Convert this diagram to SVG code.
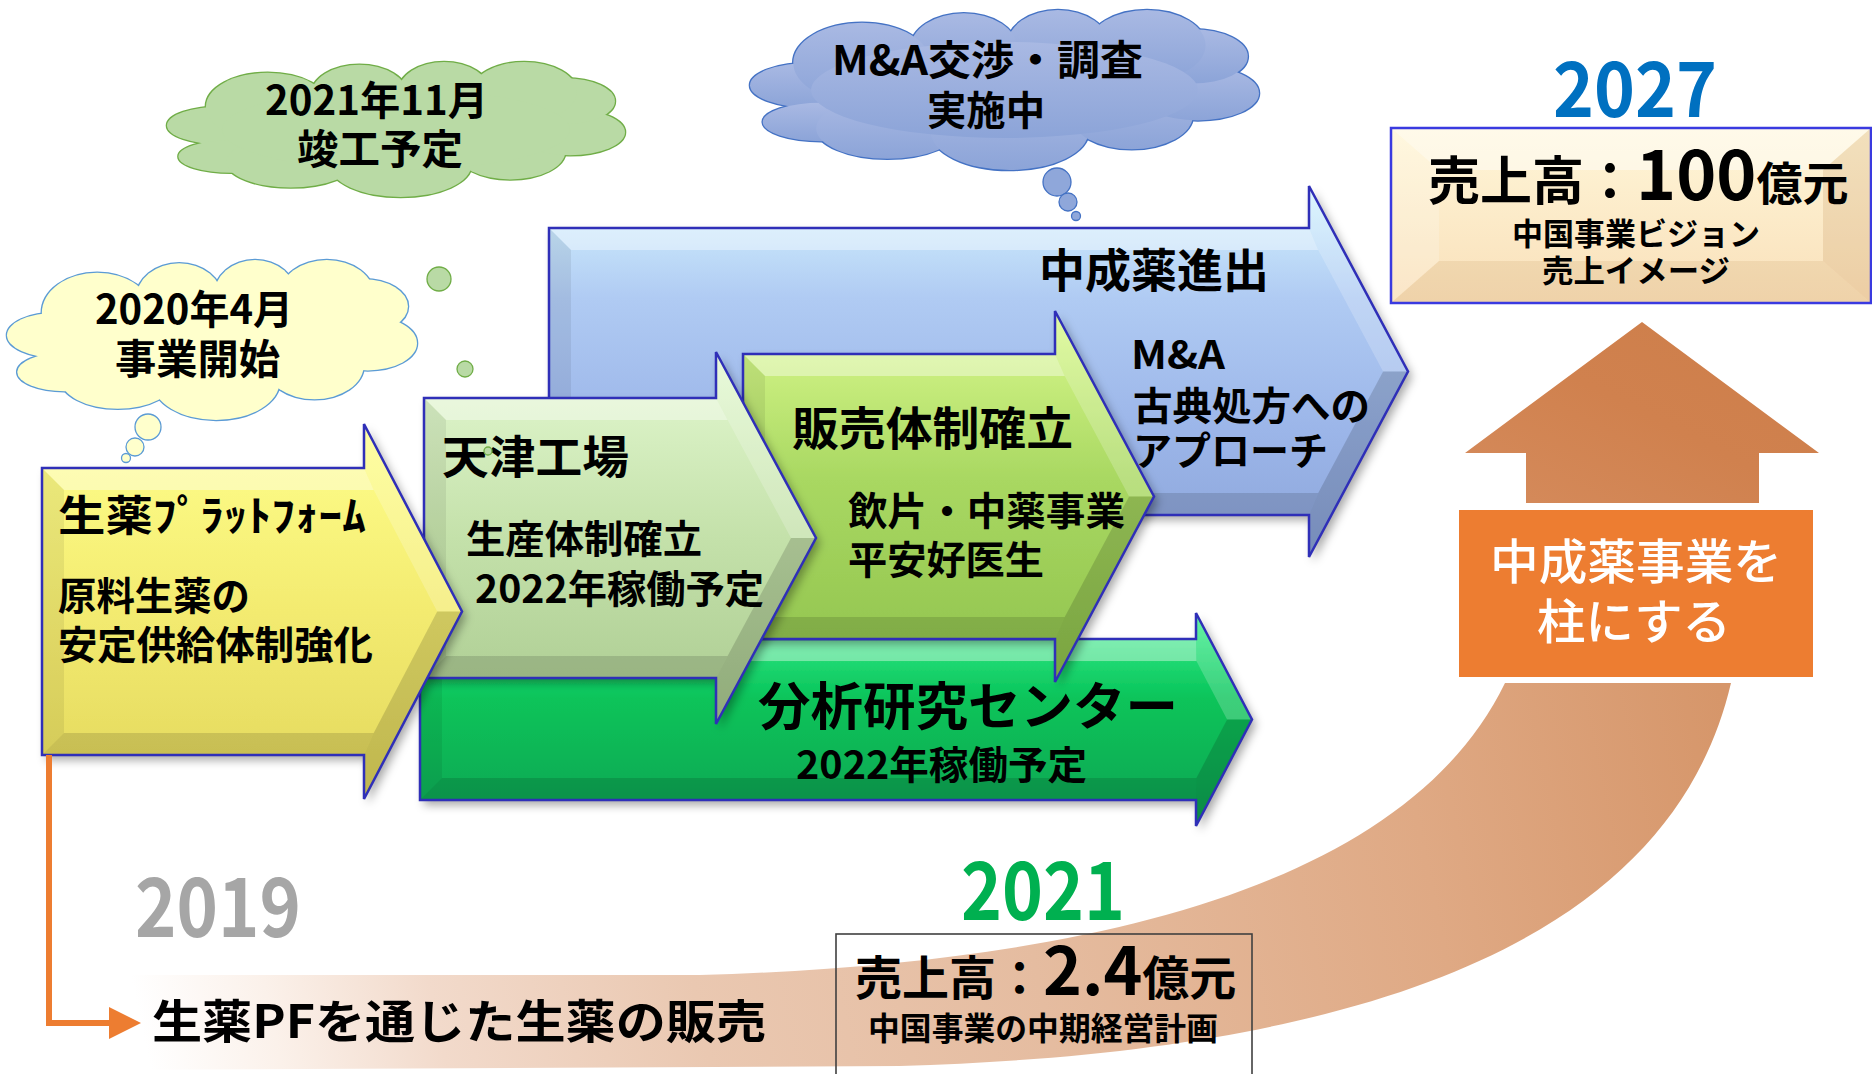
<svg xmlns="http://www.w3.org/2000/svg" xmlns:xlink="http://www.w3.org/1999/xlink" width="1872" height="1074" viewBox="0 0 1872 1074">
<style>
text{font-family:"Noto Sans CJK JP","Noto Sans",sans-serif;font-weight:700;fill:#000}
.edge{fill:none;stroke:#2F2FB8;stroke-width:2.5;stroke-linejoin:miter}
.ft{fill:#fff;opacity:.38}
.fl{fill:#000;opacity:.07}
.fb{fill:#000;opacity:.13}
.fhu{fill:#fff;opacity:.2}
.fhd{fill:#000;opacity:.15}
.wt{fill:#fff;font-weight:500}
</style>
<defs>
<filter id="sh" x="-10%" y="-10%" width="125%" height="130%">
<feDropShadow dx="4" dy="5" stdDeviation="5" flood-color="#000" flood-opacity="0.35"/>
</filter>
<linearGradient id="gBlue" x1="0" y1="0" x2="0" y2="1">
<stop offset="0" stop-color="#D6F6FF"/><stop offset="0.3" stop-color="#B0CBF3"/><stop offset="0.65" stop-color="#9CB6E9"/><stop offset="1" stop-color="#8CA5DA"/>
</linearGradient>
<linearGradient id="gDark" x1="0" y1="0" x2="0" y2="1">
<stop offset="0" stop-color="#3FF290"/><stop offset="0.4" stop-color="#08C45A"/><stop offset="1" stop-color="#10A352"/>
</linearGradient>
<linearGradient id="gYG" x1="0" y1="0" x2="0" y2="1">
<stop offset="0" stop-color="#DBFA8E"/><stop offset="0.45" stop-color="#A9D862"/><stop offset="1" stop-color="#8FC24C"/>
</linearGradient>
<linearGradient id="gLG" x1="0" y1="0" x2="0" y2="1">
<stop offset="0" stop-color="#E4F9D2"/><stop offset="0.5" stop-color="#C4E1AA"/><stop offset="1" stop-color="#AACA90"/>
</linearGradient>
<linearGradient id="gY" x1="0" y1="0" x2="0" y2="1">
<stop offset="0" stop-color="#FFFF8C"/><stop offset="0.5" stop-color="#F3EB70"/><stop offset="1" stop-color="#E2D75C"/>
</linearGradient>
<linearGradient id="gBeige" x1="0" y1="0" x2="0" y2="1">
<stop offset="0" stop-color="#FFF6D8"/><stop offset="1" stop-color="#F9E0BA"/>
</linearGradient>
<linearGradient id="gBlueCloud" x1="0" y1="0" x2="0" y2="1">
<stop offset="0" stop-color="#A9B9E3"/><stop offset="1" stop-color="#8CA4D8"/>
</linearGradient>
<linearGradient id="gOrangeArrow" x1="0" y1="1" x2="1" y2="0">
<stop offset="0" stop-color="#D58B5C"/><stop offset="0.5" stop-color="#D0814E"/><stop offset="1" stop-color="#CD7E4A"/>
</linearGradient>
<linearGradient id="gBand" gradientUnits="userSpaceOnUse" x1="140" y1="1020" x2="1720" y2="690">
<stop offset="0" stop-color="#FFFFFF"/><stop offset="0.08" stop-color="#FBF1EA"/><stop offset="0.18" stop-color="#F2DACB"/><stop offset="0.34" stop-color="#EAC8B1"/><stop offset="0.55" stop-color="#E5BCA0"/><stop offset="0.8" stop-color="#DFA984"/><stop offset="1" stop-color="#D6966A"/>
</linearGradient>
<g id="cloudShape">
<ellipse cx="0.12" cy="0.47" rx="0.12" ry="0.14" vector-effect="non-scaling-stroke" stroke-width="2.6"/>
<ellipse cx="0.14" cy="0.70" rx="0.115" ry="0.12" vector-effect="non-scaling-stroke" stroke-width="2.6"/>
<ellipse cx="0.27" cy="0.74" rx="0.14" ry="0.19" vector-effect="non-scaling-stroke" stroke-width="2.6"/>
<ellipse cx="0.51" cy="0.76" rx="0.155" ry="0.24" vector-effect="non-scaling-stroke" stroke-width="2.6"/>
<ellipse cx="0.75" cy="0.66" rx="0.12" ry="0.21" vector-effect="non-scaling-stroke" stroke-width="2.6"/>
<ellipse cx="0.88" cy="0.52" rx="0.12" ry="0.17" vector-effect="non-scaling-stroke" stroke-width="2.6"/>
<ellipse cx="0.87" cy="0.29" rx="0.108" ry="0.17" vector-effect="non-scaling-stroke" stroke-width="2.6"/>
<ellipse cx="0.78" cy="0.22" rx="0.115" ry="0.22" vector-effect="non-scaling-stroke" stroke-width="2.6"/>
<ellipse cx="0.605" cy="0.22" rx="0.1" ry="0.22" vector-effect="non-scaling-stroke" stroke-width="2.6"/>
<ellipse cx="0.42" cy="0.24" rx="0.105" ry="0.22" vector-effect="non-scaling-stroke" stroke-width="2.6"/>
<ellipse cx="0.22" cy="0.33" rx="0.135" ry="0.25" vector-effect="non-scaling-stroke" stroke-width="2.6"/>
<ellipse cx="0.5" cy="0.5" rx="0.38" ry="0.3" vector-effect="non-scaling-stroke" stroke-width="2.6"/>
</g>
</defs>

<rect width="1872" height="1074" fill="#fff"/>

<g id="growth-curve">
<path d="M100,1070 L900,1066 C1450,1050 1680,900 1731,683 L1505,683 C1400,900 1050,965 700,975 L100,975 Z" fill="url(#gBand)"/>
</g>

<g id="arrow-chuseiyaku">
<path d="M549,228 H1309 V186 L1408,371.5 L1309,557 V515 H549 Z" fill="url(#gBlue)" filter="url(#sh)"/>
<path class="ft" d="M549,228 H1309 L1318.2,250 H571 Z"/>
<path class="fl" d="M549,228 L571,250 V493 L549,515 Z"/>
<path class="fb" d="M549,515 L571,493 H1318.2 L1309,515 Z"/>
<path class="fhu" d="M1309,228 V186 L1408,371.5 L1383.1,371.5 L1318.2,250 Z"/>
<path class="fhd" d="M1309,515 V557 L1408,371.5 L1383.1,371.5 L1318.2,493 Z"/>
<path class="edge" d="M549,228 H1309 V186 L1408,371.5 L1309,557 V515 H549 Z"/>
<text x="1039" y="287" font-size="46" textLength="230" lengthAdjust="spacingAndGlyphs">中成薬進出</text>
<text x="1131" y="369" font-size="39" textLength="94" lengthAdjust="spacingAndGlyphs">M&amp;A</text>
<text x="1133" y="420" font-size="39" textLength="237" lengthAdjust="spacingAndGlyphs">古典処方への</text>
<text x="1133" y="465" font-size="39" textLength="195" lengthAdjust="spacingAndGlyphs">アプローチ</text>
</g>

<g id="arrow-bunseki">
<path d="M420,639 H1196 V613 L1252,719.5 L1196,826 V800 H420 Z" fill="url(#gDark)" filter="url(#sh)"/>
<path class="ft" d="M420,639 H1196 L1196.4,661 H442 Z"/>
<path class="fl" d="M420,639 L442,661 V778 L420,800 Z"/>
<path class="fb" d="M420,800 L442,778 H1196.4 L1196,800 Z"/>
<path class="fhu" d="M1196,639 V613 L1252,719.5 L1227.1,719.5 L1196.4,661 Z"/>
<path class="fhd" d="M1196,800 V826 L1252,719.5 L1227.1,719.5 L1196.4,778 Z"/>
<path class="edge" d="M420,639 H1196 V613 L1252,719.5 L1196,826 V800 H420 Z"/>
<text x="758" y="725" font-size="51" textLength="420" lengthAdjust="spacingAndGlyphs">分析研究センター</text>
<text x="796" y="779" font-size="39" textLength="291" lengthAdjust="spacingAndGlyphs">2022年稼働予定</text>
</g>

<g id="arrow-hanbai">
<path d="M743,354 H1055 V311 L1154,496.5 L1055,682 V639 H743 Z" fill="url(#gYG)" filter="url(#sh)"/>
<path class="ft" d="M743,354 H1055 L1064.7,376 H765 Z"/>
<path class="fl" d="M743,354 L765,376 V617 L743,639 Z"/>
<path class="fb" d="M743,639 L765,617 H1064.7 L1055,639 Z"/>
<path class="fhu" d="M1055,354 V311 L1154,496.5 L1129.1,496.5 L1064.7,376 Z"/>
<path class="fhd" d="M1055,639 V682 L1154,496.5 L1129.1,496.5 L1064.7,617 Z"/>
<path class="edge" d="M743,354 H1055 V311 L1154,496.5 L1055,682 V639 H743 Z"/>
<text x="792" y="445" font-size="46" textLength="281" lengthAdjust="spacingAndGlyphs">販売体制確立</text>
<text x="848" y="525" font-size="39" textLength="277" lengthAdjust="spacingAndGlyphs">飲片・中薬事業</text>
<text x="848" y="574" font-size="39" textLength="196" lengthAdjust="spacingAndGlyphs">平安好医生</text>
</g>

<g id="arrow-tianjin">
<path d="M424,398 H716 V352 L816,538 L716,724 V678 H424 Z" fill="url(#gLG)" filter="url(#sh)"/>
<path class="ft" d="M424,398 H716 L727.6,420 H446 Z"/>
<path class="fl" d="M424,398 L446,420 V656 L424,678 Z"/>
<path class="fb" d="M424,678 L446,656 H727.6 L716,678 Z"/>
<path class="fhu" d="M716,398 V352 L816,538 L791,538 L727.6,420 Z"/>
<path class="fhd" d="M716,678 V724 L816,538 L791,538 L727.6,656 Z"/>
<path class="edge" d="M424,398 H716 V352 L816,538 L716,724 V678 H424 Z"/>
<text x="442" y="474" font-size="45" textLength="187" lengthAdjust="spacingAndGlyphs">天津工場</text>
<text x="466" y="553" font-size="39" textLength="236" lengthAdjust="spacingAndGlyphs">生産体制確立</text>
<text x="475" y="603" font-size="39" textLength="289" lengthAdjust="spacingAndGlyphs">2022年稼働予定</text>
</g>

<g id="arrow-shoyaku">
<path d="M42,468 H364 V424 L462,611.5 L364,799 V755 H42 Z" fill="url(#gY)" filter="url(#sh)"/>
<path class="ft" d="M42,468 H364 L373.7,490 H64 Z"/>
<path class="fl" d="M42,468 L64,490 V733 L42,755 Z"/>
<path class="fb" d="M42,755 L64,733 H373.7 L364,755 Z"/>
<path class="fhu" d="M364,468 V424 L462,611.5 L437.2,611.5 L373.7,490 Z"/>
<path class="fhd" d="M364,755 V799 L462,611.5 L437.2,611.5 L373.7,733 Z"/>
<path class="edge" d="M42,468 H364 V424 L462,611.5 L364,799 V755 H42 Z"/>
<text x="58" y="531" font-size="42" textLength="308" lengthAdjust="spacingAndGlyphs">生薬ﾌﾟﾗｯﾄﾌｫｰﾑ</text>
<text x="58" y="610" font-size="39" textLength="192" lengthAdjust="spacingAndGlyphs">原料生薬の</text>
<text x="58" y="659" font-size="39" textLength="315" lengthAdjust="spacingAndGlyphs">安定供給体制強化</text>
</g>

<g id="cloud-2020">
<g transform="translate(7,260) scale(410,160)">
<use href="#cloudShape" fill="#FFFFCC" stroke="#5B9BD5"/>
<use href="#cloudShape" fill="#FFFFCC" stroke="none"/>
</g>
<circle cx="148" cy="427" r="13" fill="#FFFFCC" stroke="#5B9BD5" stroke-width="1.3"/>
<circle cx="135" cy="447" r="9" fill="#FFFFCC" stroke="#5B9BD5" stroke-width="1.3"/>
<circle cx="126" cy="458" r="4.5" fill="#FFFFCC" stroke="#5B9BD5" stroke-width="1.3"/>
<text x="95" y="324" font-size="40" textLength="198" lengthAdjust="spacingAndGlyphs">2020年4月</text>
<text x="115" y="374" font-size="41" textLength="165" lengthAdjust="spacingAndGlyphs">事業開始</text>
</g>

<g id="cloud-2021-11">
<g transform="translate(167,62) scale(458,135)">
<use href="#cloudShape" fill="#B9DAA5" stroke="#70AD47"/>
<use href="#cloudShape" fill="#B9DAA5" stroke="none"/>
</g>
<circle cx="439" cy="279" r="12" fill="#B9DAA5" stroke="#70AD47" stroke-width="1.3"/>
<circle cx="465" cy="369" r="8" fill="#B9DAA5" stroke="#70AD47" stroke-width="1.3"/>
<circle cx="488" cy="451" r="4" fill="#B9DAA5" stroke="#70AD47" stroke-width="1.3"/>
<text x="265" y="115" font-size="40" textLength="223" lengthAdjust="spacingAndGlyphs">2021年11月</text>
<text x="297" y="164" font-size="41" textLength="166" lengthAdjust="spacingAndGlyphs">竣工予定</text>
</g>

<g id="cloud-ma">
<g transform="translate(750,10) scale(509,160)">
<use href="#cloudShape" fill="url(#gBlueCloud)" stroke="#4472C4"/>
<use href="#cloudShape" fill="url(#gBlueCloud)" stroke="none"/>
</g>
<circle cx="1057" cy="182" r="14" fill="#8FA7DA" stroke="#4472C4" stroke-width="1.3"/>
<circle cx="1068" cy="202" r="9" fill="#8FA7DA" stroke="#4472C4" stroke-width="1.3"/>
<circle cx="1076" cy="216" r="4.5" fill="#8FA7DA" stroke="#4472C4" stroke-width="1.3"/>
<text x="832" y="75" font-size="41" textLength="311" lengthAdjust="spacingAndGlyphs">M&amp;A交渉・調査</text>
<text x="927" y="125" font-size="40" textLength="118" lengthAdjust="spacingAndGlyphs">実施中</text>
</g>

<g id="target-2027">
<text x="1553" y="117" font-size="76" textLength="164" lengthAdjust="spacingAndGlyphs" style="fill:#0070C0">2027</text>
<rect x="1391" y="128" width="480" height="175" fill="url(#gBeige)"/>
<path d="M1391,128 H1871 L1823,170 H1439 Z" fill="#fff" opacity="0.45"/>
<path d="M1391,128 L1439,170 V261 L1391,303 Z" fill="#fff" opacity="0.2"/>
<path d="M1391,303 L1439,261 H1823 L1871,303 Z" fill="#B07030" opacity="0.12"/>
<path d="M1871,128 L1823,170 V261 L1871,303 Z" fill="#B07030" opacity="0.16"/>
<rect x="1391" y="128" width="480" height="175" fill="none" stroke="#3A3AE0" stroke-width="2.5"/>
<text x="1428" y="200"><tspan font-size="52">売上高：</tspan><tspan font-size="68">100</tspan><tspan font-size="46">億元</tspan></text>
<text x="1512" y="245" font-size="31" textLength="248" lengthAdjust="spacingAndGlyphs">中国事業ビジョン</text>
<text x="1542" y="282" font-size="31" textLength="188" lengthAdjust="spacingAndGlyphs">売上イメージ</text>
</g>

<g id="up-arrow">
<path d="M1642,322 L1819,453 H1759 V503 H1526 V453 H1465 Z" fill="url(#gOrangeArrow)"/>
</g>

<g id="pillar-box">
<rect x="1459" y="510" width="354" height="167" fill="#ED7D31"/>
<text class="wt" x="1490" y="579" font-size="48" textLength="292" lengthAdjust="spacingAndGlyphs">中成薬事業を</text>
<text class="wt" x="1537" y="639" font-size="48" textLength="194" lengthAdjust="spacingAndGlyphs">柱にする</text>
</g>

<g id="year-2019">
<text x="135" y="937" font-size="82" textLength="166" lengthAdjust="spacingAndGlyphs" style="fill:#A6A6A6">2019</text>
</g>

<g id="sales-pf">
<text x="152" y="1038" font-size="46" textLength="614" lengthAdjust="spacingAndGlyphs">生薬PFを通じた生薬の販売</text>
</g>

<g id="year-2021">
<text x="961" y="920" font-size="80" textLength="164" lengthAdjust="spacingAndGlyphs" style="fill:#00B050">2021</text>
<rect x="836" y="934" width="416" height="150" fill="none" stroke="#404040" stroke-width="1.6"/>
<text x="855" y="995"><tspan font-size="47">売上高：</tspan><tspan font-size="66">2.4</tspan><tspan font-size="47">億元</tspan></text>
<text x="868" y="1040" font-size="32" textLength="350" lengthAdjust="spacingAndGlyphs">中国事業の中期経営計画</text>
</g>

<g id="connectors">
<path d="M49,755 V1023 H114" fill="none" stroke="#ED7D31" stroke-width="6"/>
<path d="M109,1007 L141,1023 L109,1039 Z" fill="#ED7D31"/>
</g>
</svg>
